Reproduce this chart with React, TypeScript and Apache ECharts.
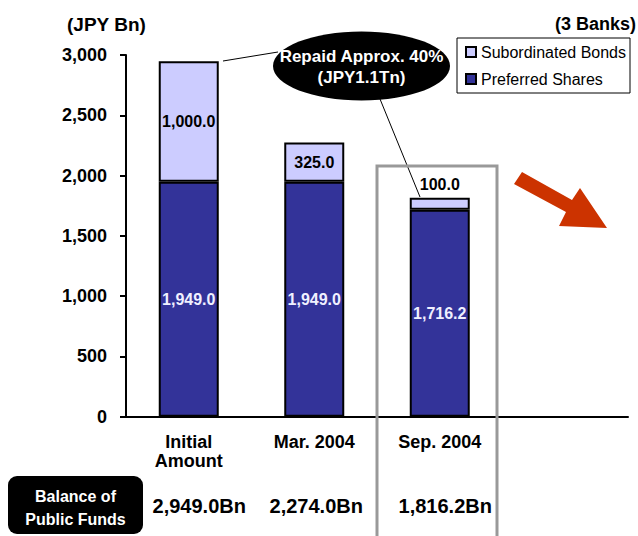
import React, { useEffect, useRef } from "react";
import * as echarts from "echarts";

const categories = ["Initial\nAmount", "Mar. 2004", "Sep. 2004", ""];
const preferredShares = [1949.0, 1949.0, 1716.2];
const subordinatedBonds = [1000.0, 325.0, 100.0];
const yTicks = { min: 0, max: 3000, interval: 500 };

const FONT = 'Arial, "Liberation Sans", sans-serif';

const fmt = (v: number) =>
  v.toLocaleString("en-US", { minimumFractionDigits: 1, maximumFractionDigits: 1 });

const balancePad = [21, 4, 11, 0];

export default function App() {
  const ref = useRef<HTMLDivElement>(null);
  useEffect(() => {
    document.body.style.margin = "0";
    if (!ref.current) return;
    const chart = echarts.init(ref.current, undefined, { renderer: "svg" });
    const balances = preferredShares.map((p, i) => fmt(p + subordinatedBonds[i]) + "Bn");
    balances.push("");

    const rich: any = {};
    balancePad.forEach((p, i) => {
      rich["b" + i] = {
        color: "#000",
        fontSize: 20,
        fontWeight: "bold",
        fontFamily: FONT,
        padding: [0, 0, 0, p],
      };
    });

    chart.setOption({
      animation: false,
      textStyle: { fontFamily: FONT },
      grid: { left: 126, right: 10, top: 55, bottom: 119.3, containLabel: false },
      legend: {
        orient: "vertical",
        left: 457,
        top: 38,
        data: ["Subordinated Bonds", "Preferred Shares"],
        icon: "rect",
        itemWidth: 10,
        itemHeight: 10,
        itemGap: 11,
        padding: [6, 4, 6, 8],
        borderColor: "#000",
        borderWidth: 1,
        backgroundColor: "#fff",
        textStyle: { fontFamily: FONT, fontSize: 16, color: "#000" },
      },
      xAxis: [
        {
          type: "category",
          data: categories,
          axisLine: { show: true, lineStyle: { color: "#000", width: 2 } },
          axisTick: { show: false },
          axisLabel: {
            color: "#000",
            fontSize: 18,
            fontWeight: "bold",
            fontFamily: FONT,
            lineHeight: 19,
            margin: 16,
            interval: 0,
          },
        },
        {
          type: "category",
          position: "bottom",
          offset: 70,
          data: balances,
          axisLine: { show: false },
          axisTick: { show: false },
          axisLabel: {
            color: "#000",
            fontSize: 20,
            fontWeight: "bold",
            fontFamily: FONT,
            margin: 9,
            interval: 0,
            formatter: (v: string, i: number) => (v ? `{b${i}|${v}}` : ""),
            rich,
          },
        },
      ],
      yAxis: {
        type: "value",
        min: yTicks.min,
        max: yTicks.max,
        interval: yTicks.interval,
        axisLine: { show: true, lineStyle: { color: "#000", width: 2 } },
        axisTick: { show: true, length: 6, lineStyle: { color: "#000", width: 2 } },
        splitLine: { show: false },
        axisLabel: {
          color: "#000",
          fontSize: 18,
          fontWeight: "bold",
          fontFamily: FONT,
          margin: 19,
          formatter: (v: number) => v.toLocaleString("en-US"),
        },
      },
      series: [
        {
          name: "Preferred Shares",
          type: "bar",
          stack: "total",
          barWidth: 60,
          data: preferredShares,
          itemStyle: { color: "#333399", borderColor: "#000", borderWidth: 2 },
          label: {
            show: true,
            position: "inside",
            color: "#f0f0ff",
            fontSize: 16,
            fontWeight: "bold",
            fontFamily: FONT,
            formatter: (p: any) => fmt(p.value),
          },
        },
        {
          name: "Subordinated Bonds",
          type: "bar",
          stack: "total",
          barWidth: 60,
          data: subordinatedBonds.map((v, i) =>
            i === 2 ? { value: v, label: { position: "top", distance: 5 } } : v
          ),
          itemStyle: { color: "#ccccff", borderColor: "#000", borderWidth: 2 },
          label: {
            show: true,
            position: "inside",
            color: "#000",
            fontSize: 16,
            fontWeight: "bold",
            fontFamily: FONT,
            formatter: (p: any) => fmt(p.value),
          },
        },
      ],
      graphic: [
        {
          type: "text",
          left: 67,
          top: 15,
          style: { text: "(JPY Bn)", fontSize: 19, fontWeight: "bold", fontFamily: FONT, fill: "#000" },
        },
        {
          type: "text",
          right: 2,
          top: 15,
          style: { text: "(3 Banks)", fontSize: 18, fontWeight: "bold", fontFamily: FONT, fill: "#000" },
        },
        {
          type: "line",
          shape: { x1: 223, y1: 61, x2: 278, y2: 52 },
          style: { stroke: "#000", lineWidth: 1 },
        },
        {
          type: "line",
          shape: { x1: 380, y1: 99, x2: 420, y2: 197 },
          style: { stroke: "#000", lineWidth: 1 },
          z: 10,
        },
        {
          type: "ellipse",
          shape: { cx: 361.5, cy: 66, rx: 88.5, ry: 34.5 },
          style: { fill: "#000" },
        },
        {
          type: "text",
          x: 361.5,
          y: 67,
          style: {
            text: "Repaid Approx. 40%\n(JPY1.1Tn)",
            fontSize: 17,
            fontWeight: "bold",
            fontFamily: FONT,
            fill: "#fff",
            align: "center",
            verticalAlign: "middle",
            lineHeight: 21,
          },
        },
        {
          type: "polyline",
          shape: { points: [[377, 540], [377, 166], [497, 166], [497, 540]] },
          style: { stroke: "#999", lineWidth: 3, fill: null },
          z: 20,
        },
        {
          type: "polygon",
          shape: {
            points: [
              [522, 172],
              [572, 200],
              [580, 188],
              [607, 228],
              [559, 226],
              [566, 212],
              [514, 184],
            ],
          },
          style: { fill: "#cc3300" },
        },
        {
          type: "rect",
          shape: { x: 8, y: 476, width: 135, height: 58, r: 9 },
          style: { fill: "#000" },
        },
        {
          type: "text",
          x: 75.5,
          y: 508,
          style: {
            text: "Balance of\nPublic Funds",
            fontSize: 16,
            fontWeight: "bold",
            fontFamily: FONT,
            fill: "#fff",
            align: "center",
            verticalAlign: "middle",
            lineHeight: 23,
          },
        },
      ],
    });
    return () => chart.dispose();
  }, []);
  return <div ref={ref} style={{ width: 638, height: 536 }} />;
}
